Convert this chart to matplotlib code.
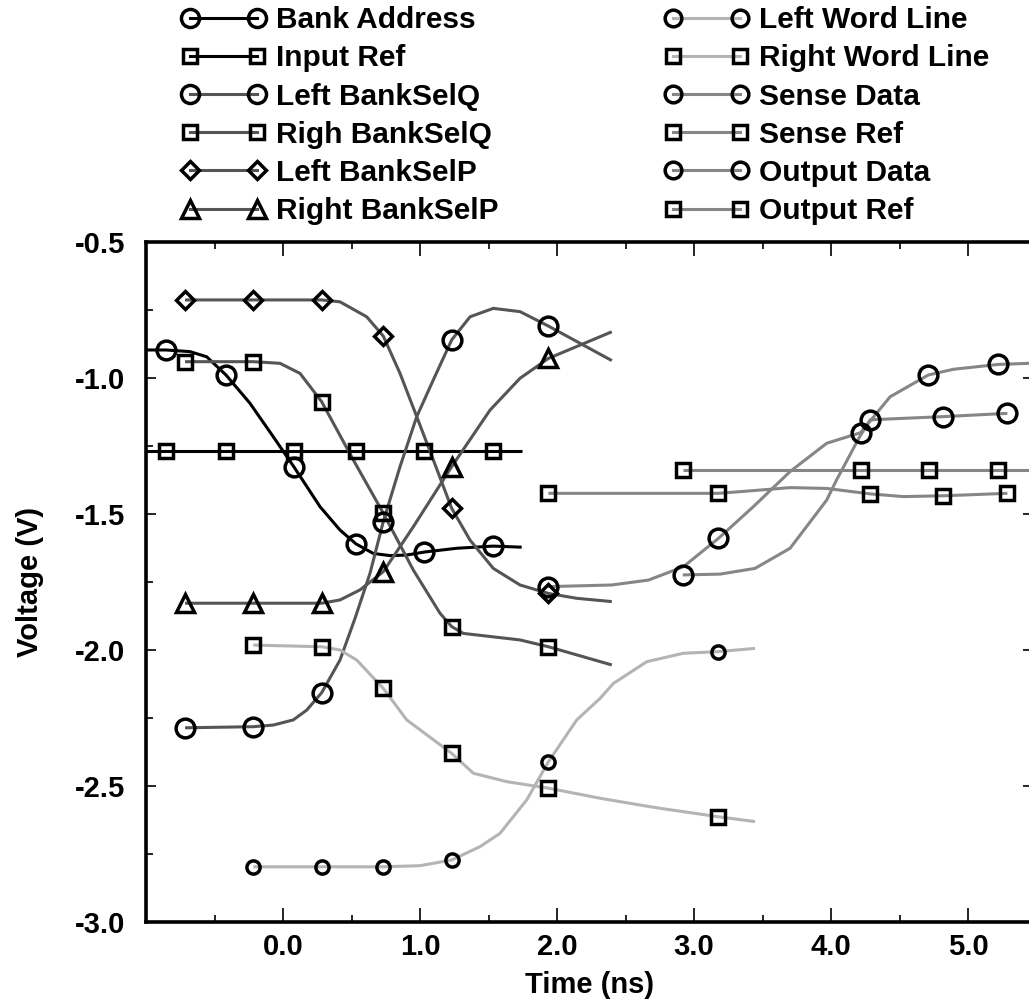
import matplotlib
matplotlib.use("Agg")
import matplotlib.pyplot as plt
from matplotlib.lines import Line2D
from matplotlib.ticker import FixedLocator

plt.rcParams['font.family'] = ['Liberation Sans', 'DejaVu Sans']
plt.rcParams['font.weight'] = 'bold'

# ---- waveform samples (time in ns, voltage in V) ----
bank_address_t = [-1.0, -0.854, -0.679, -0.557, -0.416, -0.241, -0.071, 0.080, 0.270, 0.416,
                  0.533, 0.659, 0.781, 0.903, 1.029, 1.268, 1.533, 1.742]
bank_address_v = [-0.897, -0.897, -0.903, -0.922, -0.989, -1.093, -1.216, -1.327, -1.473, -1.559,
                  -1.610, -1.645, -1.653, -1.651, -1.640, -1.626, -1.618, -1.622]
bank_address_mk = [1, 4, 7, 10, 14, 16]

input_ref_t = [-1.0, -0.854, -0.416, 0.080, 0.533, 1.029, 1.533, 1.742]
input_ref_v = [-1.267, -1.267, -1.267, -1.267, -1.267, -1.267, -1.267, -1.267]
input_ref_mk = [1, 2, 3, 4, 5, 6]

left_selq_t = [-0.715, -0.217, -0.071, 0.075, 0.173, 0.282, 0.416, 0.526, 0.635, 0.732,
               0.854, 0.976, 1.097, 1.231, 1.365, 1.535, 1.730, 1.937, 2.40]
left_selq_v = [-2.286, -2.282, -2.276, -2.257, -2.221, -2.157, -2.037, -1.883, -1.718, -1.528,
               -1.326, -1.142, -1.007, -0.860, -0.775, -0.744, -0.756, -0.809, -0.936]
left_selq_mk = [0, 1, 5, 9, 13, 17]

right_selq_t = [-0.715, -0.217, -0.022, 0.124, 0.282, 0.513, 0.732, 0.951, 1.146, 1.231,
                1.316, 1.730, 1.937, 2.40]
right_selq_v = [-0.940, -0.940, -0.946, -0.983, -1.087, -1.301, -1.497, -1.706, -1.865, -1.914,
                -1.939, -1.963, -1.988, -2.055]
right_selq_mk = [0, 1, 4, 6, 9, 12]

left_selp_t = [-0.715, -0.217, 0.282, 0.416, 0.611, 0.732, 0.854, 0.976, 1.097, 1.231,
               1.365, 1.535, 1.730, 1.937, 2.144, 2.40]
left_selp_v = [-0.713, -0.713, -0.713, -0.720, -0.775, -0.846, -0.983, -1.142, -1.301, -1.479,
               -1.596, -1.700, -1.761, -1.792, -1.810, -1.822]
left_selp_mk = [0, 1, 2, 5, 9, 13]

right_selp_t = [-0.715, -0.217, 0.282, 0.416, 0.562, 0.732, 0.951, 1.231, 1.511, 1.730,
                1.937, 2.40]
right_selp_v = [-1.828, -1.828, -1.828, -1.816, -1.779, -1.712, -1.547, -1.326, -1.118, -1.001,
                -0.928, -0.830]
right_selp_mk = [0, 1, 2, 5, 7, 10]

left_wl_t = [-0.217, 0.282, 0.732, 1.000, 1.231, 1.438, 1.584, 1.779, 1.937, 2.144,
             2.314, 2.411, 2.655, 2.922, 3.177, 3.445]
left_wl_v = [-2.797, -2.797, -2.797, -2.793, -2.772, -2.723, -2.674, -2.551, -2.411, -2.257,
             -2.178, -2.123, -2.043, -2.012, -2.006, -1.994]
left_wl_mk = [0, 1, 2, 4, 8, 14]

right_wl_t = [-0.217, 0.282, 0.416, 0.538, 0.732, 0.903, 1.231, 1.389, 1.633, 1.937,
              2.314, 2.606, 2.752, 3.177, 3.445]
right_wl_v = [-1.982, -1.988, -2.000, -2.037, -2.141, -2.257, -2.380, -2.453, -2.484, -2.508,
              -2.545, -2.570, -2.582, -2.613, -2.631]
right_wl_mk = [0, 1, 4, 6, 9, 13]

sense_data_t = [1.937, 2.399, 2.667, 2.922, 3.177, 3.433, 3.701, 3.968, 4.216, 4.431,
                4.710, 4.893, 5.221, 5.45]
sense_data_v = [-1.767, -1.761, -1.743, -1.694, -1.590, -1.473, -1.344, -1.240, -1.201, -1.069,
                -0.989, -0.968, -0.950, -0.946]
sense_data_mk = [0, 4, 8, 10, 12]

sense_ref_t = [1.937, 3.177, 3.433, 3.701, 3.968, 4.285, 4.528, 4.820, 5.287]
sense_ref_v = [-1.424, -1.424, -1.414, -1.403, -1.406, -1.426, -1.436, -1.433, -1.424]
sense_ref_mk = [0, 1, 5, 7, 8]

output_data_t = [2.918, 3.190, 3.445, 3.701, 3.968, 4.040, 4.210, 4.285, 4.360, 4.820, 5.287]
output_data_v = [-1.724, -1.721, -1.700, -1.626, -1.449, -1.375, -1.215, -1.154, -1.152, -1.142, -1.130]
output_data_mk = [0, 7, 9, 10]

output_ref_t = [2.918, 4.216, 4.718, 5.221, 5.45]
output_ref_v = [-1.338, -1.338, -1.338, -1.338, -1.338]
output_ref_mk = [0, 1, 2, 3]

labels = ["Bank Address", "Input Ref", "Left BankSelQ", "Righ BankSelQ", "Left BankSelP",
          "Right BankSelP", "Left Word Line", "Right Word Line", "Sense Data", "Sense Ref",
          "Output Data", "Output Ref"]

x_ticks = [0.0, 1.0, 2.0, 3.0, 4.0, 5.0]
x_ticklabels = ["0.0", "1.0", "2.0", "3.0", "4.0", "5.0"]
y_ticks = [-3.0, -2.5, -2.0, -1.5, -1.0, -0.5]
y_ticklabels = ["-3.0", "-2.5", "-2.0", "-1.5", "-1.0", "-0.5"]

BLACK = "#000000"
DARK = "#555555"
LIGHT = "#b4b4b4"
MID = "#868686"

# (time, volts, marker indices, line colour, marker, plot size, legend size)
series = [
    (bank_address_t, bank_address_v, bank_address_mk, BLACK, 'o', 13.5, 13.0),
    (input_ref_t, input_ref_v, input_ref_mk, BLACK, 's', 10.5, 10.0),
    (left_selq_t, left_selq_v, left_selq_mk, DARK, 'o', 13.5, 13.0),
    (right_selq_t, right_selq_v, right_selq_mk, DARK, 's', 10.5, 10.0),
    (left_selp_t, left_selp_v, left_selp_mk, DARK, 'D', 9.0, 9.0),
    (right_selp_t, right_selp_v, right_selp_mk, DARK, '^', 12.5, 12.5),
    (left_wl_t, left_wl_v, left_wl_mk, LIGHT, 'o', 9.5, 12.0),
    (right_wl_t, right_wl_v, right_wl_mk, LIGHT, 's', 10.5, 10.0),
    (sense_data_t, sense_data_v, sense_data_mk, MID, 'o', 13.5, 12.0),
    (sense_ref_t, sense_ref_v, sense_ref_mk, MID, 's', 10.5, 10.0),
    (output_data_t, output_data_v, output_data_mk, MID, 'o', 13.5, 12.0),
    (output_ref_t, output_ref_v, output_ref_mk, MID, 's', 10.5, 10.0),
]

fig = plt.figure(figsize=(10.29, 10.01), dpi=100)
# right spine sits just past the canvas edge
ax = fig.add_axes([146 / 1029, 79 / 1001, 887 / 1029, 680 / 1001])

LW = 2.2
MEW = 2.5
handles = []
for (t, v, mk, col, m, ms, lms), lab in zip(series, labels):
    ax.plot(t, v, color=col, lw=LW, solid_capstyle='butt', zorder=2)
    ax.plot([t[i] for i in mk], [v[i] for i in mk], linestyle='none', marker=m,
            markersize=ms, markerfacecolor='none', markeredgecolor='black',
            markeredgewidth=MEW, zorder=3)
    handles.append(Line2D([], [], color=col, lw=LW, marker=m, markersize=lms,
                          markerfacecolor='none', markeredgecolor='black',
                          markeredgewidth=MEW, label=lab))

ax.set_xlim(-1.0, 5.474)
ax.set_ylim(-3.0, -0.5)

ax.xaxis.set_major_locator(FixedLocator(x_ticks))
ax.set_xticklabels(x_ticklabels)
ax.xaxis.set_minor_locator(FixedLocator([-0.5, 0.5, 1.5, 2.5, 3.5, 4.5]))
ax.yaxis.set_major_locator(FixedLocator(y_ticks))
ax.set_yticklabels(y_ticklabels)
ax.yaxis.set_minor_locator(FixedLocator([-2.75, -2.25, -1.75, -1.25, -0.75]))

ax.tick_params(axis='x', which='major', direction='in', length=10, width=1.2,
               top=True, bottom=True, labelsize=21, pad=8)
ax.tick_params(axis='x', which='minor', direction='in', length=5, width=1.2,
               top=True, bottom=True)
ax.tick_params(axis='y', which='major', direction='in', length=7, width=1.2,
               left=True, right=True, labelsize=21, pad=15)
ax.tick_params(axis='y', which='minor', direction='in', length=5, width=1.2,
               left=True, right=False)
for lab in ax.get_xticklabels() + ax.get_yticklabels():
    lab.set_fontweight('bold')

for sp in ax.spines.values():
    sp.set_linewidth(2.6)

ax.set_xlabel("Time (ns)", fontsize=21, fontweight='bold', labelpad=7)
ax.set_ylabel("Voltage (V)", fontsize=21, fontweight='bold', labelpad=22)

legend_kw = dict(frameon=False, numpoints=2, handlelength=2.84,
                 handletextpad=0.33, labelspacing=0.34, borderpad=0.0,
                 borderaxespad=0.0, loc='upper left',
                 prop={'weight': 'bold', 'size': 21.5})
fig.legend(handles=handles[:6], bbox_to_anchor=(181.0 / 1029, 0.9938), **legend_kw)
fig.legend(handles=handles[6:], bbox_to_anchor=(664.0 / 1029, 0.9938), **legend_kw)

fig.savefig("out.png", dpi=100)
